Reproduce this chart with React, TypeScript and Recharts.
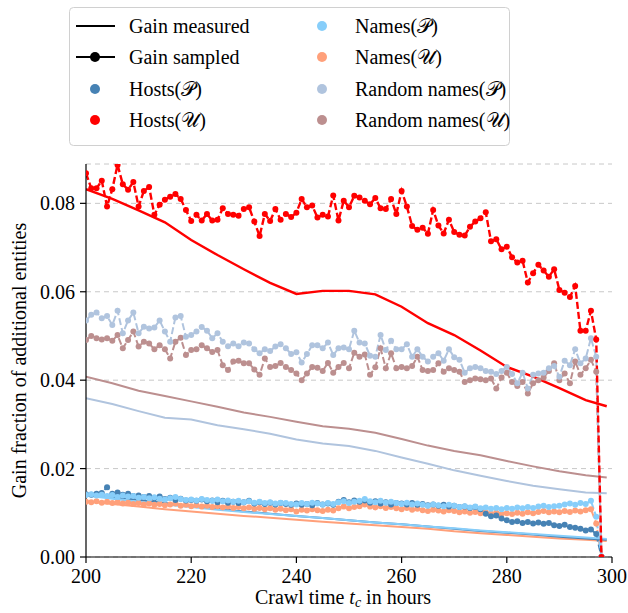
import React from "react";
import { LineChart, Line, XAxis, YAxis, CartesianGrid, Legend } from "recharts";

// sampled crawl hours (one sample per hour) and hours where the measured gain is read
const sampleHours = Array.from({ length: 99 }, (_, i) => 200 + i);
const measuredHours = [200, 205, 210, 215, 220, 225, 230, 235, 240, 245, 250, 255, 260, 265, 270, 275, 280, 285, 290, 295, 299];

const xTicks = [200, 220, 240, 260, 280, 300];
const yTicks = [0, 0.02, 0.04, 0.06, 0.08];

const hostsUSampled = [
  0.0868, 0.0834, 0.0834, 0.0851, 0.0793, 0.0832, 0.0887, 0.0843, 0.0831, 0.0848,
  0.0793, 0.0828, 0.0837, 0.0774, 0.0797, 0.0808, 0.0815, 0.0821, 0.081, 0.0785,
  0.076, 0.0774, 0.0761, 0.0776, 0.0761, 0.0763, 0.0789, 0.0776, 0.0774, 0.0772,
  0.0787, 0.0791, 0.0759, 0.0726, 0.0776,
  0.076, 0.0787, 0.0763, 0.0776, 0.0769, 0.0779, 0.081, 0.0791, 0.0795, 0.0768,
  0.0774, 0.077, 0.0818, 0.0761, 0.0806, 0.0791, 0.0817, 0.0813, 0.0806, 0.0798,
  0.0812, 0.0789, 0.0787, 0.081, 0.0776, 0.0828, 0.0793, 0.0749, 0.074, 0.0745,
  0.0731, 0.0785,
  0.075, 0.0732, 0.0763, 0.0735, 0.0729, 0.0727, 0.0747, 0.0759, 0.0766, 0.078,
  0.0714, 0.0719, 0.0696, 0.0702, 0.0678, 0.0666, 0.067, 0.0621, 0.0642, 0.0661,
  0.0648, 0.0634, 0.0651, 0.0604, 0.0598, 0.0588, 0.0613,
  0.0512, 0.0512, 0.0557, 0.0492, 0,
];
const hostsUMeasured = [
  0.0832, 0.081, 0.0784, 0.0757, 0.0717, 0.0683, 0.0651, 0.062, 0.0595, 0.0602,
  0.0602, 0.0594, 0.0566, 0.0529, 0.0502, 0.0467, 0.043, 0.0408, 0.0382, 0.0355, 0.0341,
];

const randPSampled = [
  0.0535, 0.0548, 0.0553, 0.054, 0.0545, 0.0525, 0.0557, 0.0506, 0.0535, 0.0553,
  0.0506, 0.0521, 0.0517, 0.0519, 0.0535, 0.051, 0.0487, 0.0542, 0.0545, 0.0498,
  0.0502, 0.051, 0.052, 0.0512, 0.0495, 0.0506, 0.0487, 0.0477, 0.0483, 0.0477,
  0.0485, 0.0483, 0.047, 0.0461, 0.047,
  0.0466, 0.0476, 0.0481, 0.0472, 0.0459, 0.0463, 0.044, 0.0459, 0.0479, 0.0479,
  0.0472, 0.0485, 0.0457, 0.0472, 0.0474, 0.047, 0.0512, 0.0485, 0.0483, 0.0455,
  0.0453, 0.0502, 0.0468, 0.0489, 0.047, 0.047, 0.0481, 0.0453, 0.047, 0.0453,
  0.0442, 0.0453,
  0.0461, 0.0444, 0.047, 0.0452, 0.0446, 0.0417, 0.0427, 0.043, 0.0427, 0.0421,
  0.0419, 0.0414, 0.0421, 0.043, 0.0414, 0.0393, 0.0417, 0.0381, 0.0412, 0.0415,
  0.0417, 0.0427, 0.0432, 0.0408, 0.0444, 0.0434, 0.047, 0.0438, 0.0449, 0.0495,
  0.0453, 0,
];
const randPMeasured = [
  0.0359, 0.0346, 0.033, 0.0315, 0.0311, 0.0298, 0.0289, 0.0279, 0.0266, 0.0257,
  0.0251, 0.024, 0.0225, 0.0211, 0.0196, 0.0184, 0.0172, 0.0161, 0.0153, 0.0146, 0.0144,
];

const randUSampled = [
  0.0491, 0.05, 0.0495, 0.0492, 0.0495, 0.0489, 0.0502, 0.0472, 0.0491, 0.051,
  0.0476, 0.0487, 0.0483, 0.047, 0.0479, 0.047, 0.0449, 0.0487, 0.0496, 0.0457,
  0.0468, 0.047, 0.0479, 0.0472, 0.0464, 0.0468, 0.0434, 0.0423, 0.0442, 0.0444,
  0.0438, 0.0438, 0.0424, 0.0412, 0.0449,
  0.043, 0.0432, 0.0439, 0.043, 0.0423, 0.0415, 0.04, 0.0415, 0.043, 0.0428,
  0.0421, 0.0439, 0.0417, 0.043, 0.0439, 0.0427, 0.0462, 0.0453, 0.0458, 0.0412,
  0.0429, 0.0472, 0.0427, 0.0461, 0.0427, 0.043, 0.0427, 0.0432, 0.0453, 0.0423,
  0.0421, 0.0423,
  0.0438, 0.0419, 0.0427, 0.0423, 0.0419, 0.0396, 0.04, 0.0404, 0.0402, 0.04,
  0.0404, 0.0381, 0.0406, 0.0417, 0.0396, 0.0387, 0.0396, 0.037, 0.0393, 0.04,
  0.0406, 0.0421, 0.0438, 0.04, 0.0415, 0.0393, 0.0442, 0.0412, 0.0427, 0.0446,
  0.0419, 0,
];
const randUMeasured = [
  0.0408, 0.0393, 0.0376, 0.0364, 0.0352, 0.034, 0.0327, 0.0317, 0.0306, 0.0296,
  0.029, 0.0281, 0.0267, 0.0252, 0.024, 0.023, 0.0217, 0.0205, 0.0194, 0.0185, 0.018,
];

const namesPSampled = [
  0.014, 0.0142, 0.0139, 0.0141, 0.0138, 0.014, 0.0136, 0.0139, 0.0137, 0.0138,
  0.0134, 0.0136, 0.0133, 0.0135, 0.0132, 0.013, 0.0133, 0.0136, 0.0131, 0.0129,
  0.013, 0.0128, 0.0131, 0.0129, 0.0127, 0.013, 0.0126, 0.0128, 0.0125, 0.0127,
  0.0124, 0.0126, 0.0123, 0.0125, 0.0122, 0.0124, 0.0121, 0.0123, 0.0122, 0.012,
  0.0119, 0.0122, 0.012, 0.0123, 0.0121, 0.0119, 0.0122, 0.012, 0.0124, 0.0126,
  0.0122, 0.0125, 0.0127, 0.0131, 0.0126, 0.0124, 0.0127, 0.0123, 0.0125, 0.0122,
  0.012, 0.0123, 0.0119, 0.0121, 0.0118, 0.0116, 0.0119, 0.0117, 0.0115, 0.0118,
  0.0116, 0.0113, 0.0115, 0.0112, 0.0114, 0.011, 0.0112, 0.0109, 0.0111, 0.0108,
  0.0111, 0.0109, 0.0112, 0.011, 0.0113, 0.0111, 0.0114, 0.0116, 0.0113, 0.0115,
  0.0116, 0.0119, 0.0121, 0.0118, 0.0122, 0.012, 0.0127, 0.0091, 0,
];
const namesPMeasured = [
  0.0139, 0.0132, 0.0125, 0.0119, 0.0113, 0.0107, 0.0102, 0.0097, 0.0093, 0.0088,
  0.0083, 0.0078, 0.0074, 0.0069, 0.0065, 0.006, 0.0056, 0.0052, 0.0048, 0.0044, 0.0041,
];

const hostsPSampled = [
  0.0142, 0.0141, 0.0143, 0.0145, 0.0158, 0.0143, 0.0146, 0.0141, 0.0143, 0.0138,
  0.0139, 0.0136, 0.0138, 0.0133, 0.0137, 0.0131, 0.0134, 0.0129, 0.0132, 0.0128,
  0.0129, 0.0127, 0.013, 0.0126, 0.0128, 0.0124, 0.0127, 0.0123, 0.0125, 0.0122,
  0.0124, 0.0127, 0.0121, 0.0124, 0.012, 0.0123, 0.0119, 0.0122, 0.012, 0.0118,
  0.0121, 0.0118, 0.012, 0.0117, 0.0122, 0.0119, 0.0121, 0.0118, 0.0125, 0.0129,
  0.0124, 0.0128, 0.0125, 0.0128, 0.0123, 0.0126, 0.0121, 0.0124, 0.0119, 0.0122,
  0.0121, 0.0119, 0.0122, 0.0118, 0.012, 0.0117, 0.0119, 0.0116, 0.0118, 0.0114,
  0.0116, 0.0113, 0.0114, 0.0111, 0.0113, 0.0108, 0.0098, 0.0092, 0.0094, 0.0087,
  0.0083, 0.0079, 0.0081, 0.0077, 0.0079, 0.0076, 0.0078, 0.0075, 0.0077, 0.0072,
  0.007, 0.0073, 0.0068, 0.0066, 0.0064, 0.006, 0.0062, 0.0052, 0,
];
const hostsPMeasured = [
  0.0143, 0.0136, 0.0129, 0.0122, 0.0115, 0.0109, 0.0103, 0.0098, 0.0093, 0.0088,
  0.0083, 0.0078, 0.0074, 0.0069, 0.0064, 0.0059, 0.0055, 0.0051, 0.0046, 0.0042, 0.0039,
];

const namesUSampled = [
  0.0125, 0.0124, 0.0126, 0.0123, 0.0125, 0.0122, 0.0124, 0.0121, 0.0123, 0.012,
  0.0122, 0.0119, 0.0121, 0.0118, 0.012, 0.0117, 0.0119, 0.0121, 0.0116, 0.0118,
  0.0115, 0.0117, 0.0114, 0.0116, 0.0113, 0.0115, 0.0112, 0.0114, 0.0111, 0.0113,
  0.011, 0.0112, 0.0109, 0.0111, 0.0108, 0.011, 0.0107, 0.0109, 0.0106, 0.0108,
  0.0103, 0.0107, 0.0105, 0.0108, 0.0106, 0.0104, 0.0107, 0.0105, 0.011, 0.0114,
  0.011, 0.0113, 0.0115, 0.0119, 0.0114, 0.0112, 0.0115, 0.0111, 0.0113, 0.011,
  0.0108, 0.0111, 0.0107, 0.0109, 0.0106, 0.0104, 0.0107, 0.0105, 0.0103, 0.0106,
  0.0104, 0.0101, 0.0103, 0.01, 0.0102, 0.0099, 0.0101, 0.0098, 0.01, 0.0097,
  0.0099, 0.0097, 0.01, 0.0098, 0.0101, 0.0099, 0.0102, 0.0104, 0.0101, 0.0103,
  0.0101, 0.0104, 0.0102, 0.0105, 0.0103, 0.0106, 0.0108, 0.0076, 0,
];
const namesUMeasured = [
  0.0126, 0.012, 0.0114, 0.0108, 0.0103, 0.0098, 0.0093, 0.0089, 0.0084, 0.008,
  0.0076, 0.0072, 0.0068, 0.0064, 0.0058, 0.0054, 0.005, 0.0046, 0.0042, 0.0039, 0.0036,
];

const toPoints = (hours: number[], values: number[]) =>
  hours.map((t, i) => ({ t, v: values[i] }));

const FONT = "'Liberation Serif', 'DejaVu Serif', serif";

const series = [
  { name: "Random names(𝒰)", color: "#BC8F8F", measured: randUMeasured, sampled: randUSampled, w: 2 },
  { name: "Random names(𝒫)", color: "#B0C4DE", measured: randPMeasured, sampled: randPSampled, w: 2 },
  { name: "Names(𝒰)", color: "#FFA07A", measured: namesUMeasured, sampled: namesUSampled, w: 2 },
  { name: "Hosts(𝒫)", color: "#4682B4", measured: hostsPMeasured, sampled: hostsPSampled, w: 2 },
  { name: "Names(𝒫)", color: "#87CEFA", measured: namesPMeasured, sampled: namesPSampled, w: 2 },
  { name: "Hosts(𝒰)", color: "#FF0000", measured: hostsUMeasured, sampled: hostsUSampled, w: 2.4 },
];

const legendLeft = [
  { label: "Gain measured", kind: "line", color: "#000" },
  { label: "Gain sampled", kind: "linedot", color: "#000" },
  { label: "Hosts(𝒫)", kind: "dot", color: "#4682B4" },
  { label: "Hosts(𝒰)", kind: "dot", color: "#FF0000" },
];
const legendRight = [
  { label: "Names(𝒫)", kind: "dot", color: "#87CEFA" },
  { label: "Names(𝒰)", kind: "dot", color: "#FFA07A" },
  { label: "Random names(𝒫)", kind: "dot", color: "#B0C4DE" },
  { label: "Random names(𝒰)", kind: "dot", color: "#BC8F8F" },
];

function LegendBox() {
  const rows = [19, 50, 82, 113];
  const handle = (kind: string, color: string, cx: number, cy: number) => (
    <g>
      {kind !== "dot" && <line x1={cx - 19} x2={cx + 20} y1={cy} y2={cy} stroke={color} strokeWidth={2.2} />}
      {kind !== "line" && <circle cx={cx} cy={cy} r={5} fill={color} />}
    </g>
  );
  return (
    <svg width={442} height={140} style={{ display: "block" }}>
      <rect x={0.5} y={0.5} width={440} height={138} rx={4} fill="#fff" fillOpacity={0.8} stroke="#d0d0d0" />
      {legendLeft.map((it, i) => (
        <g key={it.label}>
          {handle(it.kind, it.color, 26, rows[i])}
          <text x={60} y={rows[i] + 7} fontSize={20} fontFamily={FONT} fill="#000">{it.label}</text>
        </g>
      ))}
      {legendRight.map((it, i) => (
        <g key={it.label}>
          {handle(it.kind, it.color, 253, rows[i])}
          <text x={286} y={rows[i] + 7} fontSize={20} fontFamily={FONT} fill="#000">{it.label}</text>
        </g>
      ))}
    </svg>
  );
}

function XLabel(props: any) {
  const { viewBox } = props;
  const cx = viewBox.x + viewBox.width / 2;
  return (
    <text x={cx - 6} y={604} textAnchor="middle" fontSize={20} fontFamily={FONT} fill="#000">
      Crawl time <tspan fontStyle="italic">t</tspan>
      <tspan fontStyle="italic" fontSize={14} dy={3}>c</tspan>
      <tspan dy={-3}> in hours</tspan>
    </text>
  );
}

function YLabel(props: any) {
  const { viewBox } = props;
  const cy = viewBox.y + viewBox.height / 2;
  return (
    <text x={26} y={cy} transform={`rotate(-90, 26, ${cy})`} textAnchor="middle" fontSize={20} fontFamily={FONT} fill="#000">
      Gain fraction of additional entities
    </text>
  );
}

export default function App() {
  const tickStyle = { fill: "#000", fontSize: 20, fontFamily: FONT };
  return (
    <div style={{ position: "absolute", left: 0, top: 0, width: 628, height: 613, background: "#fff" }}>
      <LineChart width={628} height={613} margin={{ top: 164, right: 16, bottom: 0, left: 0 }}>
        <CartesianGrid vertical={false} stroke="#c8c8c8" strokeDasharray="5 4" />
        <XAxis
          type="number"
          dataKey="t"
          domain={[200, 300]}
          ticks={xTicks}
          height={56}
          tick={tickStyle}
          tickSize={6}
          tickMargin={6}
          axisLine={{ stroke: "#000", strokeWidth: 1.2 }}
          tickLine={{ stroke: "#000", strokeWidth: 1.2 }}
          allowDataOverflow
          label={<XLabel />}
        />
        <YAxis
          type="number"
          domain={[0, 0.0889]}
          ticks={yTicks}
          width={86}
          tick={tickStyle}
          tickSize={6}
          tickMargin={5}
          tickFormatter={(v: number) => v.toFixed(2)}
          axisLine={{ stroke: "#000", strokeWidth: 1.2 }}
          tickLine={{ stroke: "#000", strokeWidth: 1.2 }}
          allowDataOverflow
          label={<YLabel />}
        />
        <Legend
          layout="horizontal"
          verticalAlign="middle"
          align="center"
          wrapperStyle={{ position: "absolute", top: 7, left: 69, width: 442, height: 140 }}
          content={() => <LegendBox />}
        />
        {series.map((s) => [
          <Line
            key={s.name + "-m"}
            data={toPoints(measuredHours, s.measured)}
            dataKey="v"
            type="linear"
            stroke={s.color}
            strokeWidth={s.w}
            dot={false}
            isAnimationActive={false}
          />,
          <Line
            key={s.name + "-s"}
            data={toPoints(sampleHours, s.sampled)}
            dataKey="v"
            type="linear"
            stroke={s.color}
            strokeWidth={s.w}
            strokeDasharray="7 3"
            dot={{ r: 3, fill: s.color, stroke: "none" }}
            isAnimationActive={false}
          />,
        ])}
      </LineChart>
    </div>
  );
}
